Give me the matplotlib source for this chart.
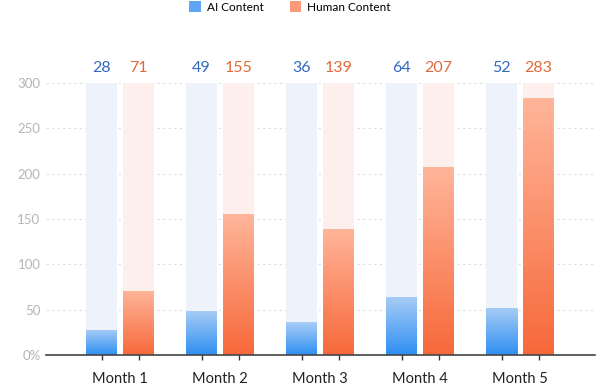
import numpy as np
import matplotlib.pyplot as plt
from matplotlib.colors import LinearSegmentedColormap
from matplotlib.patches import Patch

# --- Data ---
months = ["Month 1", "Month 2", "Month 3", "Month 4", "Month 5"]
ai_content = [28, 49, 36, 64, 52]
human_content = [71, 155, 139, 207, 283]
y_ticks = [0, 50, 100, 150, 200, 250, 300]
y_tick_labels = ["0%", "50", "100", "150", "200", "250", "300"]

plt.rcParams['font.family'] = ['Lato', 'DejaVu Sans']

BLUE_TXT = "#3569c0"
ORANGE_TXT = "#e06a3c"
blue_cmap = LinearSegmentedColormap.from_list("b", ["#2e8ff2", "#a9cdf6"])
orange_cmap = LinearSegmentedColormap.from_list("o", ["#f7693a", "#ffb59a"])

fig = plt.figure(figsize=(5.98, 3.88), dpi=100)
ax = fig.add_axes([46 / 598, 1 - 355 / 388, 549 / 598, 272 / 388])

x = np.arange(len(months))
w = 0.31
off = 0.185
ymax = y_ticks[-1]

ax.bar(x - off, [ymax] * len(x), w, color="#edf2fb", zorder=1)
ax.bar(x + off, [ymax] * len(x), w, color="#fdf0ec", zorder=1)

grad = np.linspace(0, 1, 256).reshape(-1, 1)
for xs, vals, cmap, tc in [(x - off, ai_content, blue_cmap, BLUE_TXT),
                           (x + off, human_content, orange_cmap, ORANGE_TXT)]:
    bars = ax.bar(xs, vals, w, color="none", zorder=2)
    for b, v, xc in zip(bars, vals, xs):
        im = ax.imshow(grad, cmap=cmap, aspect="auto", origin="lower",
                       extent=[xc - w / 2, xc + w / 2, 0, v], zorder=2)
        im.set_clip_path(b)
        ax.text(xc, ymax + 16, str(v), ha="center", va="center",
                color=tc, fontsize=11.5)

ax.set_xlim(-0.74, 4.75)
ax.set_ylim(0, ymax)
ax.set_yticks(y_ticks)
ax.set_yticklabels(y_tick_labels, color="#b5b5b5", fontsize=9.5)
ax.tick_params(axis="y", length=0, pad=4)
ax.yaxis.grid(True, linestyle=(0, (2, 3)), color="#dddddd", linewidth=0.8)
ax.set_axisbelow(True)

ax.set_xticks(np.concatenate([x - off, x + off]))
ax.set_xticklabels([])
ax.tick_params(axis="x", direction="inout", length=7, width=1, color="#333333")
for xc, m in zip(x, months):
    ax.text(xc, -27, m, ha="center", va="center", fontsize=10.5, color="#222222")

for s in ["top", "right", "left"]:
    ax.spines[s].set_visible(False)
ax.spines["bottom"].set_color("#444444")
ax.spines["bottom"].set_linewidth(1.2)
ax.spines["bottom"].set_zorder(5)

handles = [Patch(facecolor="#5ea6f4", label="AI Content"),
           Patch(facecolor="#fb9a78", label="Human Content")]
fig.legend(handles=handles, loc="center", bbox_to_anchor=(0.485, 1 - 7 / 388),
           ncol=2, frameon=False, fontsize=8.5, handlelength=1.0,
           handleheight=1.0, columnspacing=2.2, handletextpad=0.5)

fig.savefig("out.png", dpi=100)
